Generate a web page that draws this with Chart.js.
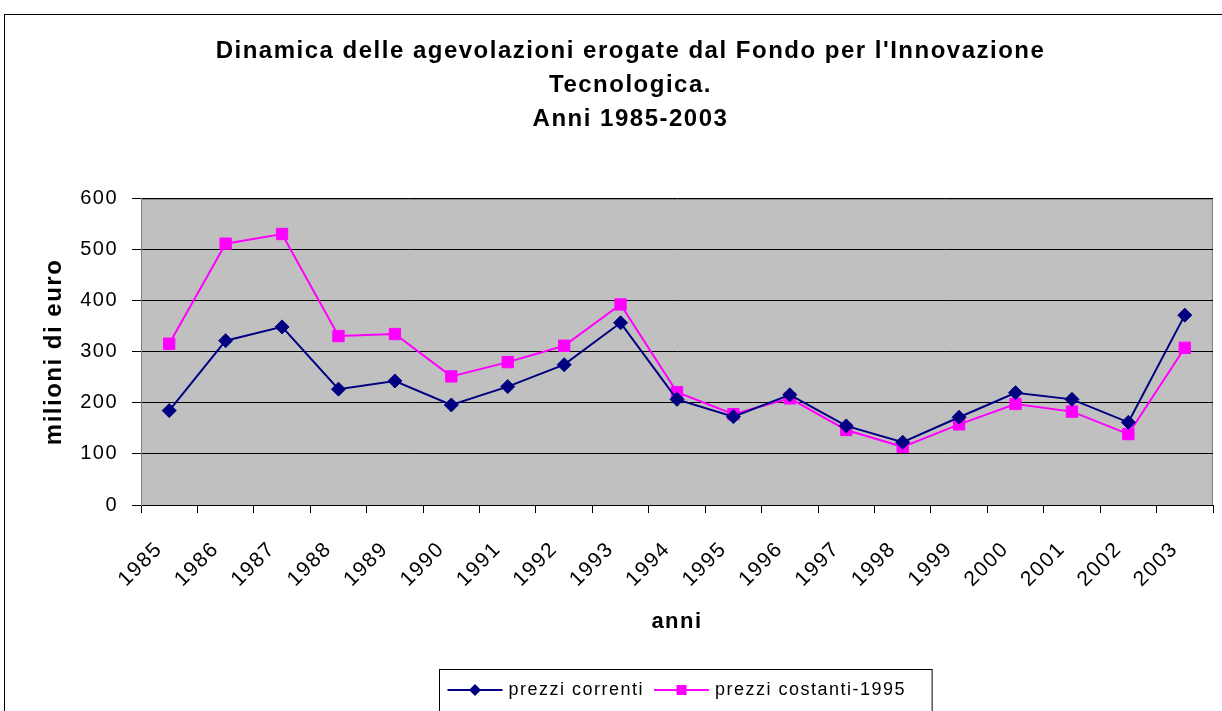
<!DOCTYPE html>
<html>
<head>
<meta charset="utf-8">
<title>Dinamica delle agevolazioni</title>
<script src="https://cdn.jsdelivr.net/npm/chart.js@4/dist/chart.umd.min.js"></script>
<style>
    html, body { margin: 0; padding: 0; background: #fff; overflow: hidden; }
    #chart { display: block; }
</style>
</head>
<body>
<canvas id="chart" width="1222" height="711"></canvas>
<script>
// values (milioni di euro)
const years = ['1985', '1986', '1987', '1988', '1989', '1990', '1991', '1992', '1993', '1994',
    '1995', '1996', '1997', '1998', '1999', '2000', '2001', '2002', '2003'];
const prezziCorrenti = [185, 322, 349, 227, 243, 196, 232, 275, 357, 207,
    173, 216, 155, 123, 172, 220, 207, 162, 372];
const prezziCostanti = [316, 512, 531, 331, 335, 252, 280, 312, 393, 221,
    178, 209, 147, 114, 158, 198, 183, 139, 308];
const titleLines = ["Dinamica delle agevolazioni erogate dal Fondo per l'Innovazione", 'Tecnologica.', 'Anni 1985-2003'];
const seriesNames = ['prezzi correnti', 'prezzi costanti-1995'];

const FONT = '"Liberation Sans", Arial, sans-serif';
Chart.defaults.font.family = FONT;
Chart.defaults.color = '#000';

// Excel-like wide letter spacing for every text
const spacingPlugin = {
    id: 'spacing',
    beforeUpdate(chart) { chart.ctx.letterSpacing = '1.5px'; },
    beforeDraw(chart) { chart.ctx.letterSpacing = '1.5px'; }
};

// outer frame + grey plot area
const framePlugin = {
    id: 'frame',
    beforeDraw(chart) {
        const ctx = chart.ctx;
        const a = chart.chartArea;
        ctx.save();
        ctx.fillStyle = '#fff';
        ctx.fillRect(0, 0, chart.width, chart.height);
        ctx.strokeStyle = '#000';
        ctx.lineWidth = 1;
        ctx.strokeRect(4.5, 14.5, chart.width + 20, chart.height + 20);
        ctx.fillStyle = '#C0C0C0';
        ctx.fillRect(a.left, a.top, a.right - a.left, a.bottom - a.top);
        ctx.strokeStyle = '#808080';
        ctx.strokeRect(a.left + 0.5, a.top + 0.5, a.right - a.left - 1, a.bottom - a.top);
        ctx.restore();
    }
};

// boxed legend with line + marker samples
const boxLegendPlugin = {
    id: 'boxLegend',
    afterDraw(chart) {
        const ctx = chart.ctx;
        const sets = chart.data.datasets;
        const lineLen = 55, gap = 6, between = 10, padL = 8, padR = 26;
        ctx.save();
        ctx.letterSpacing = '1.5px';
        ctx.font = '18px ' + FONT;
        const widths = sets.map(d => ctx.measureText(d.label).width);
        let total = padL + padR + between * (sets.length - 1);
        widths.forEach(w => total += lineLen + gap + w);
        const left = Math.round(685 - total / 2) + 0.5;
        const top = 669.5, cy = 690;
        ctx.fillStyle = '#fff';
        ctx.fillRect(left, top, total, 80);
        ctx.strokeStyle = '#000';
        ctx.lineWidth = 1;
        ctx.strokeRect(left, top, total, 80);

        let x = left + padL;
        sets.forEach((d, i) => {
            ctx.strokeStyle = d.borderColor;
            ctx.lineWidth = 2;
            ctx.beginPath();
            ctx.moveTo(x, cy);
            ctx.lineTo(x + lineLen, cy);
            ctx.stroke();
            const mx = x + lineLen / 2;
            ctx.fillStyle = d.backgroundColor;
            ctx.beginPath();
            if (d.pointStyle === 'rectRot') {
                ctx.moveTo(mx, cy - 6);
                ctx.lineTo(mx + 6, cy);
                ctx.lineTo(mx, cy + 6);
                ctx.lineTo(mx - 6, cy);
                ctx.closePath();
            } else {
                ctx.rect(mx - 5, cy - 5, 10, 10);
            }
            ctx.fill();
            ctx.fillStyle = '#000';
            ctx.textAlign = 'left';
            ctx.textBaseline = 'middle';
            ctx.fillText(d.label, x + lineLen + gap, cy);
            x += lineLen + gap + widths[i] + between;
        });
        ctx.restore();
    }
};

const canvas = document.getElementById('chart');
const chart = new Chart(canvas, {
    type: 'line',
    data: {
        labels: years,
        datasets: [{
            label: seriesNames[0],
            data: prezziCorrenti,
            borderColor: '#000080',
            backgroundColor: '#000080',
            borderWidth: 2,
            pointStyle: 'rectRot',
            pointRadius: 7,
            pointBorderWidth: 1,
            tension: 0
        }, {
            label: seriesNames[1],
            data: prezziCostanti,
            borderColor: '#FF00FF',
            backgroundColor: '#FF00FF',
            borderWidth: 2,
            pointStyle: 'rect',
            pointRadius: 8,
            pointBorderWidth: 1,
            tension: 0
        }]
    },
    options: {
        responsive: false,
        animation: false,
        layout: { padding: { left: 40, right: 1, top: 0, bottom: 56 } },
        plugins: {
            legend: { display: false },
            tooltip: { enabled: false },
            title: {
                display: true,
                text: titleLines,
                color: '#000',
                font: { size: 24, weight: 'bold', lineHeight: 1.4 },
                padding: { top: 35, bottom: 63 }
            }
        },
        scales: {
            x: {
                offset: true,
                grid: { offset: true, drawOnChartArea: false, color: '#000', tickColor: '#000', tickLength: 8 },
                border: { color: '#000', width: 1 },
                ticks: {
                    autoSkip: false, minRotation: 45, maxRotation: 45,
                    font: { size: 21 }, color: '#000', padding: 24, labelOffset: -10
                },
                title: {
                    display: true, text: 'anni', color: '#000',
                    font: { size: 22, weight: 'bold' },
                    padding: { top: 0, bottom: 20 }
                },
                afterFit(scale) {
                    scale.height = 150;
                    scale.paddingLeft = 0;
                    scale.paddingRight = 0;
                }
            },
            y: {
                min: 0,
                max: 600,
                grid: { color: '#000', tickColor: '#000', tickLength: 9 },
                border: { color: '#808080', width: 1 },
                ticks: { stepSize: 100, font: { size: 20 }, color: '#000', padding: 14 },
                title: {
                    display: true, text: 'milioni di euro', color: '#000',
                    font: { size: 24, weight: 'bold' },
                    padding: { top: 0, bottom: 0 }
                },
                afterFit(scale) { scale.width = 101; }
            }
        }
    },
    plugins: [spacingPlugin, framePlugin, boxLegendPlugin]
});
</script>
</body>
</html>
